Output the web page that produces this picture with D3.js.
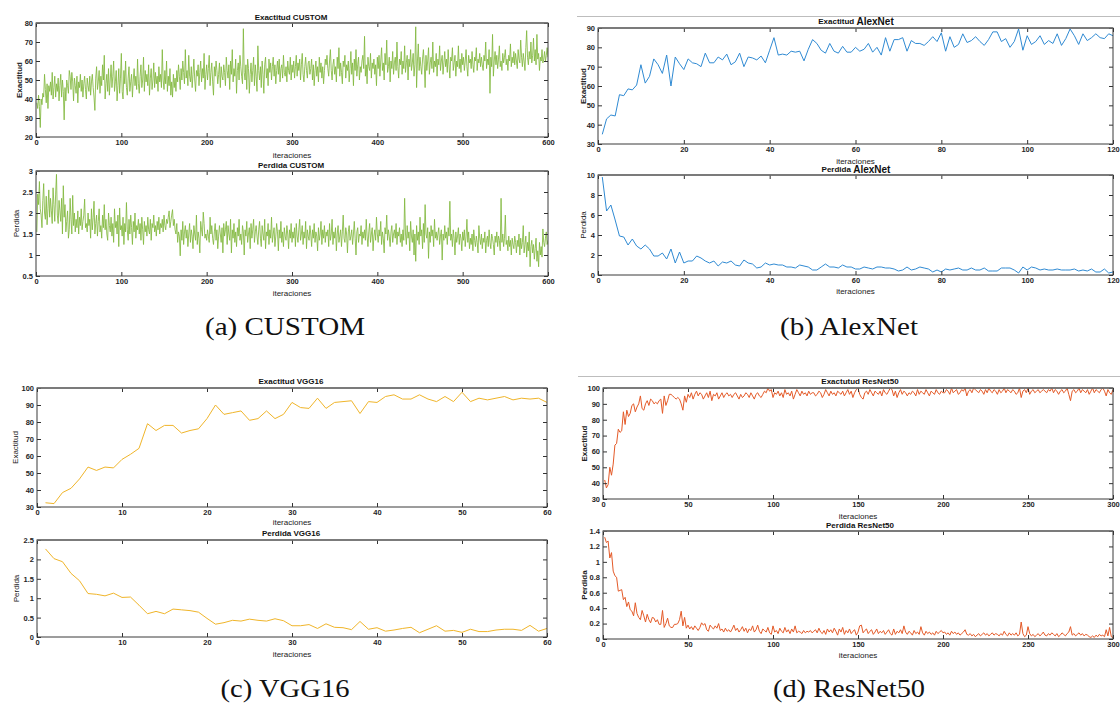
<!DOCTYPE html>
<html><head><meta charset="utf-8">
<script src="https://cdn.jsdelivr.net/npm/d3@7/dist/d3.min.js"></script>
<style>
html,body{margin:0;padding:0;background:#fff;}
svg{display:block;}
</style></head>
<body>
<svg id="chart" width="1120" height="704"></svg>
<script>
// ---------- DATA ----------
const customAcc = [
38,35,42,36,25,40,37,43,41,53,45,38,48,35,47,44,49,42,54,40,
46,52,41,48,44,51,39,47,53,41,50,44,29,46,39,50,47,43,55,52,
45,54,49,39,51,47,43,52,38,49,46,53,44,50,41,48,52,45,40,51,
47,44,52,42,49,53,46,41,34,51,57,45,49,55,43,52,47,58,50,63,
40,48,53,44,56,42,50,58,46,52,60,44,49,55,39,47,56,43,51,64,
44,40,55,48,60,46,42,51,57,44,49,53,41,50,56,47,52,45,61,48,
43,52,58,46,50,62,44,55,49,53,47,58,42,51,56,45,50,59,46,54,
48,52,44,57,49,53,46,66,50,45,55,48,60,44,52,47,56,42,49,41,
53,46,51,44,55,49,58,52,45,56,50,60,54,48,66,51,55,47,63,52,
49,57,46,53,61,50,44,55,52,58,47,54,60,49,56,51,64,45,53,58,
50,56,63,47,54,59,49,42,57,52,60,55,48,53,59,46,57,52,50,58,
54,47,62,55,51,58,45,60,53,66,49,56,52,61,43,55,59,50,63,57,
52,48,77,54,50,58,45,61,56,43,53,59,49,55,62,47,58,52,44,68,
55,50,57,46,60,53,43,58,62,51,56,47,61,54,59,50,57,62,52,58,
48,55,60,53,61,49,56,58,51,63,54,52,57,49,60,55,53,62,50,58,
54,60,51,57,63,52,59,55,61,50,58,64,53,49,57,62,55,51,59,60,
53,56,61,50,58,47,55,60,52,57,49,62,54,59,51,57,48,55,61,58,
63,56,52,60,66,55,50,58,61,53,57,49,62,56,67,52,59,54,48,60,
57,63,51,58,55,60,49,56,65,53,59,47,61,55,66,52,58,62,50,57,
54,60,63,56,73,52,58,48,62,57,55,64,51,59,56,61,53,58,47,62,
56,63,52,60,67,55,59,50,64,58,71,54,57,62,49,60,56,65,53,59,
62,55,70,57,51,61,58,65,53,60,56,68,54,59,63,50,61,57,66,55,
59,64,52,58,78,46,60,69,55,62,57,53,61,66,58,46,63,55,60,67,
53,59,62,56,70,54,60,57,64,52,61,58,68,55,60,63,53,59,65,57,
61,54,66,58,51,62,60,67,55,59,63,52,60,57,68,56,61,54,64,58,
62,55,60,66,57,52,63,59,61,56,65,58,54,62,60,67,55,61,59,64,
57,62,58,55,63,60,70,56,61,58,66,43,62,57,74,52,60,65,58,63,
56,61,68,57,60,55,64,59,62,66,58,61,55,63,60,69,57,62,59,65,
58,64,60,56,66,61,59,71,62,57,64,60,55,67,76,62,58,65,61,70,
59,63,72,60,66,58,74,61,64,55,62,60,66,59,61,65,60,63,67,62];

const customLoss = [
1.55,2.45,2.2,2.75,2.1,1.95,1.65,2.3,2.7,2.0,1.85,2.4,1.72,2.1,2.55,1.9,2.35,2.05,1.75,2.6,
2.2,1.8,2.45,2.92,1.95,1.75,2.3,2.05,1.8,2.35,1.5,2.65,1.9,2.2,1.55,1.8,2.05,1.4,1.6,2.35,
1.85,1.5,2.42,1.7,2.0,1.55,1.85,1.65,2.05,1.5,1.9,1.7,2.1,1.6,1.8,1.95,2.33,1.65,1.75,1.55,
2.0,1.7,1.85,1.4,2.1,1.6,1.9,2.28,1.5,1.75,1.95,1.45,1.8,2.1,1.55,1.7,1.4,1.95,1.65,2.2,
1.6,1.85,1.5,1.35,2.0,1.7,1.55,1.9,1.45,1.75,1.3,2.1,1.65,1.8,1.5,1.95,1.2,2.12,1.6,1.7,
1.45,1.9,1.25,1.75,1.55,2.25,1.6,1.35,1.85,1.5,1.95,1.65,1.25,1.8,1.55,2.0,1.4,1.7,1.6,1.85,
1.5,1.75,1.35,1.9,1.6,1.25,1.8,1.55,1.7,1.45,1.9,1.6,1.5,1.85,1.35,1.75,1.65,1.95,1.55,1.7,
1.45,1.8,1.6,1.9,1.5,1.75,1.65,1.85,1.55,1.95,1.7,1.6,1.85,1.75,1.9,2.05,1.65,1.8,1.95,2.08,
1.7,1.85,1.6,1.5,1.75,1.3,1.55,1.45,0.98,1.6,1.35,1.8,1.25,1.55,1.7,1.4,1.6,1.2,1.5,1.75,
1.3,1.6,1.45,1.15,1.7,1.5,1.35,1.95,1.25,1.55,1.4,1.05,1.8,1.6,1.45,2.02,1.75,1.4,1.5,1.35,
1.6,1.45,1.3,1.9,1.5,1.7,1.4,1.25,1.55,1.75,1.35,1.6,1.15,1.45,1.7,1.5,1.3,1.65,1.05,1.75,
1.45,1.6,1.8,1.25,1.7,1.5,1.35,1.85,1.05,1.6,1.4,1.75,1.3,1.55,1.2,1.65,1.45,1.85,1.35,1.5,
1.25,1.7,1.55,1.0,1.6,1.45,1.8,1.3,1.5,1.65,1.15,1.75,1.4,1.6,1.85,1.3,1.55,1.7,1.45,1.25,
1.6,1.8,1.4,1.2,1.7,1.5,1.35,1.85,1.15,1.55,1.45,1.75,1.25,1.6,1.4,1.9,1.3,1.5,1.65,1.2,
1.45,1.75,1.55,1.1,1.6,1.4,1.8,1.3,1.55,1.2,1.65,1.45,1.35,1.7,1.5,1.15,1.6,1.4,1.75,1.3,
1.55,1.4,1.65,1.2,1.75,1.45,1.3,1.6,1.85,1.35,1.5,1.7,1.25,1.55,1.4,1.8,1.15,1.6,1.45,1.35,
1.7,1.5,1.2,1.6,1.4,1.75,1.3,1.55,1.45,1.1,1.65,1.35,1.5,1.8,1.25,1.6,1.4,1.7,1.3,1.55,
1.45,1.6,1.2,1.75,1.35,1.5,1.85,1.25,1.55,1.4,1.65,1.1,1.5,1.7,1.3,1.45,1.6,1.2,1.55,1.95,
1.4,1.3,1.65,1.5,1.05,1.55,1.7,1.35,1.45,1.6,1.25,1.5,1.8,1.4,1.0,1.55,1.65,1.3,1.5,1.45,
1.7,1.25,1.55,1.4,1.6,1.35,1.85,1.45,1.2,1.55,1.75,1.3,1.5,1.65,1.1,1.45,1.6,1.35,1.9,1.5,
1.3,1.6,1.45,1.8,1.25,1.55,1.4,1.05,1.65,1.5,1.95,1.35,1.6,1.45,1.2,1.55,1.7,1.3,1.5,1.6,
1.4,1.75,1.25,1.55,1.45,1.65,1.3,1.5,1.2,1.6,1.35,2.35,1.5,1.25,1.7,1.4,1.55,1.1,1.8,1.45,
1.3,1.6,1.0,1.5,0.85,1.7,1.35,1.55,1.25,1.9,1.45,1.6,1.15,1.75,1.3,2.2,1.5,1.4,1.65,0.92,
1.55,1.3,1.7,1.45,1.6,1.2,1.85,1.4,1.55,1.35,1.5,1.65,1.25,1.45,1.6,0.88,1.5,1.35,1.7,1.4,
1.55,1.25,1.65,1.45,2.28,1.35,1.5,1.2,1.6,1.4,1.0,1.55,1.3,1.45,1.65,1.25,1.5,1.4,1.1,1.55,
1.35,1.6,1.2,1.45,1.85,1.3,1.55,1.15,1.4,1.25,1.5,1.1,1.6,1.35,1.2,1.45,1.3,1.05,1.7,1.4,
1.25,1.5,1.15,1.4,1.3,1.55,1.05,1.35,1.45,1.2,1.6,1.3,1.15,1.5,1.4,1.25,1.0,1.45,1.3,1.55,
1.2,1.45,1.35,1.1,2.35,1.3,1.5,1.2,1.4,1.95,1.25,1.35,1.1,1.45,1.2,1.35,1.0,1.4,1.25,1.15,
1.45,1.3,1.05,1.35,1.2,1.5,1.0,1.4,1.15,1.3,1.7,1.05,1.25,1.45,0.95,1.3,1.1,1.55,0.72,1.2,
1.35,1.05,1.25,0.9,1.15,1.4,0.85,1.1,0.72,1.3,1.0,1.2,0.95,1.62,1.3,1.2,1.4,1.55,1.25,1.35];

const alexAcc = [
35,43,45,44.5,55.5,55,58.5,58,60.5,71,61.5,65,74,71,66.5,76,60,75,71.5,68.5,
74,72,71.5,70,77,72,72,75,73.5,76.5,71,72.5,77,70,75,74.5,73.5,75.5,72,78.5,
85,76,76.5,76,78,77.5,78,73,79,84,82,78.5,77,82,78,77,80.5,77.5,77.5,80,
78,79,82,77.5,80,76,85,78,84,84,85,78,83.5,82,82,81,83,85.5,83,87.5,
78,85.5,80,81.5,87,82.5,83.5,85.5,83,81,84,88,88,83,84.5,80,83,89.5,78.5,86,
81.5,83,86,81.5,83.5,82,87,81,84.5,89.5,86,81.5,87,83.5,85,87,85,84.5,87,86];

const alexLoss = [
9.8,6.4,7.0,5.5,3.9,3.8,3.0,3.6,2.9,2.6,3.0,2.6,1.9,1.9,2.2,1.6,2.6,1.2,2.3,1.2,
1.4,1.4,1.9,1.7,1.4,1.2,1.4,0.9,1.3,1.2,1.4,1.0,0.9,1.5,1.2,1.1,0.7,0.8,1.2,1.0,
1.1,1.0,1.0,0.8,0.8,0.7,1.0,0.9,0.8,0.5,0.5,0.8,1.1,0.8,0.8,0.7,1.0,0.8,0.8,0.6,
0.6,0.8,0.7,0.6,0.8,0.8,0.7,0.7,0.6,0.4,0.5,0.8,0.5,0.6,0.8,0.7,0.6,0.3,0.5,0.3,
0.6,0.5,0.6,0.7,0.5,0.5,0.7,0.5,0.5,0.7,0.4,0.4,0.4,0.7,0.7,0.7,0.5,0.2,0.8,0.5,
0.8,0.7,0.5,0.6,0.5,0.5,0.6,0.5,0.5,0.5,0.6,0.4,0.5,0.4,0.6,0.3,0.3,0.6,0.2,0.3];

const vggAcc = [
32.5,32,38.5,41,46.5,53.5,51.5,53.5,53,58,61,64.5,79,75,78,78,73.5,75,76,82,
90,84.5,85.5,86.5,81,82,86.5,82,84.5,91.5,88.5,88,94,88,91.5,92,92.5,85,92,91.5,
95,96,93.5,93.5,96,93.5,92,95,92,97.5,92,94,93,94,95,93,94,93.5,94,91.5];

const vggLoss = [
2.27,2.02,1.94,1.64,1.45,1.12,1.10,1.06,1.13,1.02,1.03,0.82,0.60,0.66,0.60,0.72,0.70,0.68,0.64,0.48,
0.33,0.37,0.43,0.41,0.46,0.43,0.41,0.47,0.42,0.29,0.29,0.32,0.22,0.34,0.25,0.24,0.19,0.40,0.20,0.24,
0.15,0.18,0.22,0.25,0.11,0.20,0.29,0.15,0.17,0.12,0.20,0.14,0.14,0.18,0.20,0.20,0.17,0.30,0.15,0.22];

const resAcc = [
42,37,39,50,45,52,64,65,74,72,73,85,77,86,82,84,89,90,85,88,
90,95,87,86,90,92,89,93,92,90,91,90,92,93,84,95,89,92,96,96,
95,94,93,94,93,90,86,95,91,96,94,97,93,96,98,95,97,96,93,95,
97,94,98,92,96,95,97,93,95,97,94,96,97,95,96,94,96,97,95,93,
96,94,95,97,96,94,97,95,93,96,97,95,94,96,98,97,100,98,99,94,
97,96,98,95,97,94,99,96,97,95,98,93,96,99,97,95,98,96,97,95,
98,96,97,97,95,96,98,97,94,96,99,97,95,98,96,97,95,98,97,96,
98,95,97,99,96,98,94,97,99,100,96,94,93,97,98,96,99,97,95,98,
97,96,98,95,99,97,96,98,100,99,95,98,94,97,99,96,98,97,95,97,
96,98,97,95,99,96,98,97,96,99,97,95,98,97,96,99,97,96,98,97,
97,99,98,96,100,97,98,99,96,97,99,98,100,95,98,99,97,100,99,98,
97,99,98,96,99,97,100,98,97,99,98,96,99,97,98,100,97,99,98,97,
99,98,96,97,100,94,98,99,97,100,96,98,99,97,98,99,97,98,99,98,
97,99,98,100,97,99,98,96,98,99,97,98,100,96,92,98,99,97,98,100,
97,99,98,97,99,96,98,100,97,99,98,97,99,100,98,95,99,97,96,99];

const resLoss = [
1.32,1.25,1.27,1.05,1.12,0.88,0.82,0.80,0.62,0.63,0.64,0.51,0.54,0.42,0.48,0.38,0.36,0.30,0.47,0.33,
0.28,0.25,0.37,0.30,0.22,0.32,0.25,0.21,0.28,0.27,0.22,0.25,0.19,0.19,0.37,0.15,0.20,0.27,0.17,0.15,
0.15,0.19,0.19,0.20,0.25,0.36,0.17,0.28,0.14,0.18,0.13,0.16,0.12,0.17,0.14,0.11,0.15,0.21,0.18,0.20,
0.12,0.10,0.18,0.15,0.13,0.17,0.14,0.20,0.11,0.13,0.09,0.14,0.10,0.12,0.09,0.13,0.18,0.11,0.14,0.09,
0.12,0.16,0.10,0.14,0.08,0.13,0.11,0.17,0.09,0.12,0.18,0.10,0.07,0.13,0.11,0.09,0.15,0.08,0.06,0.17,
0.09,0.11,0.07,0.14,0.10,0.08,0.15,0.09,0.12,0.07,0.13,0.09,0.17,0.08,0.10,0.09,0.07,0.11,0.08,0.10,
0.09,0.11,0.08,0.10,0.12,0.08,0.14,0.09,0.07,0.11,0.06,0.13,0.09,0.12,0.08,0.14,0.10,0.05,0.13,0.09,
0.15,0.06,0.11,0.08,0.13,0.07,0.10,0.12,0.05,0.09,0.17,0.18,0.08,0.11,0.13,0.07,0.10,0.12,0.06,0.09,
0.13,0.07,0.10,0.08,0.11,0.06,0.09,0.12,0.07,0.05,0.13,0.06,0.10,0.08,0.12,0.07,0.17,0.09,0.06,0.10,
0.08,0.05,0.11,0.07,0.09,0.06,0.16,0.08,0.05,0.10,0.07,0.09,0.06,0.08,0.05,0.10,0.07,0.09,0.11,0.08,
0.09,0.06,0.08,0.05,0.10,0.07,0.09,0.06,0.08,0.05,0.07,0.09,0.12,0.06,0.05,0.07,0.04,0.06,0.03,0.05,
0.07,0.04,0.06,0.08,0.05,0.07,0.04,0.06,0.08,0.05,0.07,0.06,0.04,0.07,0.05,0.10,0.06,0.04,0.08,0.05,
0.07,0.05,0.08,0.04,0.06,0.22,0.07,0.03,0.05,0.16,0.07,0.04,0.06,0.03,0.05,0.07,0.04,0.06,0.09,0.05,
0.04,0.07,0.05,0.08,0.06,0.04,0.07,0.03,0.05,0.08,0.06,0.04,0.07,0.09,0.16,0.05,0.07,0.04,0.06,0.08,
0.05,0.07,0.04,0.06,0.05,0.03,0.02,0.04,0.02,0.05,0.03,0.06,0.04,0.05,0.03,0.12,0.04,0.15,0.03,0.02];

// tick values
const ticksX600 = [0,100,200,300,400,500,600];
const ticksX120 = [0,20,40,60,80,100,120];
const ticksX60  = [0,10,20,30,40,50,60];
const ticksX300 = [0,50,100,150,200,250,300];
const ticksAccCustom = [20,30,40,50,60,70,80];
const ticksLossCustom = [0.5,1,1.5,2,2.5,3];
const ticksAccAlex = [30,40,50,60,70,80,90];
const ticksLossAlex = [0,2,4,6,8,10];
const ticksAcc100 = [30,40,50,60,70,80,90,100];
const ticksLossVgg = [0,0.5,1,1.5,2,2.5];
const ticksLossRes = [0,0.2,0.4,0.6,0.8,1,1.2,1.4];

const captions = ["(a) CUSTOM","(b) AlexNet","(c) VGG16","(d) ResNet50"];

// ---------- DRAW ----------
const svg = d3.select("#chart");
const SANS = "'Liberation Sans', Arial, Helvetica, sans-serif";
const fmt = d => String(Math.round(d*10)/10);
let clipId = 0;

function panel(c) {
  const g = svg.append("g");
  const x = d3.scaleLinear().domain(c.xd).range([c.l, c.r]);
  const y = d3.scaleLinear().domain(c.yd).range([c.b, c.t]);
  const id = "clip" + (clipId++);
  g.append("clipPath").attr("id", id).append("rect")
    .attr("x", c.l).attr("y", c.t - 1).attr("width", c.r - c.l).attr("height", c.b - c.t + 2);

  g.append("path").datum(c.data)
    .attr("clip-path", `url(#${id})`)
    .attr("fill", "none").attr("stroke", c.color).attr("stroke-width", c.sw || 1)
    .attr("stroke-linejoin", "round")
    .attr("d", d3.line().x((d, i) => x(i + 1)).y(d => y(d)));

  const tickStyle = sel => {
    sel.select(".domain").remove();
    sel.selectAll(".tick line").attr("stroke", "#333").attr("stroke-width", 1);
    sel.selectAll(".tick text").attr("fill", "#262626")
      .style("font-family", SANS).style("font-size", "7.5px").style("font-weight", "bold");
  };
  g.append("g").attr("transform", `translate(0,${c.b})`)
    .call(d3.axisBottom(x).tickValues(c.xt).tickSize(-4).tickPadding(3).tickFormat(fmt)).call(tickStyle);
  g.append("g").attr("transform", `translate(0,${c.t})`)
    .call(d3.axisTop(x).tickValues(c.xt).tickSize(-4).tickFormat("")).call(tickStyle);
  g.append("g").attr("transform", `translate(${c.l},0)`)
    .call(d3.axisLeft(y).tickValues(c.yt).tickSize(-4).tickPadding(3).tickFormat(fmt)).call(tickStyle);
  g.append("g").attr("transform", `translate(${c.r},0)`)
    .call(d3.axisRight(y).tickValues(c.yt).tickSize(-4).tickFormat("")).call(tickStyle);

  // box
  g.append("rect").attr("x", c.l).attr("y", c.t).attr("width", c.r - c.l).attr("height", c.b - c.t)
    .attr("fill", "none").attr("stroke", "#3a3a3a").attr("stroke-width", 1);
  g.append("line").attr("x1", c.l).attr("x2", c.r).attr("y1", c.t).attr("y2", c.t)
    .attr("stroke", "#707070").attr("stroke-width", 1.6);

  // title
  const tt = g.append("text").attr("x", c.tx).attr("y", c.ty).attr("text-anchor", "middle")
    .attr("dominant-baseline", "central")
    .style("font-family", SANS).style("font-weight", "bold").attr("fill", "#111");
  c.title.forEach(p => tt.append("tspan").text(p[0]).style("font-size", p[1] + "px"));

  // y label
  g.append("text").attr("transform", `translate(${c.ylx},${(c.t + c.b) / 2}) rotate(-90)`)
    .attr("text-anchor", "middle").attr("dominant-baseline", "central")
    .style("font-family", SANS).style("font-size", "8px").style("font-weight", c.ylw || "bold")
    .attr("fill", "#222").text(c.ylabel);
  // x label
  g.append("text").attr("x", (c.l + c.r) / 2).attr("y", c.xly).attr("text-anchor", "middle")
    .attr("dominant-baseline", "central")
    .style("font-family", SANS).style("font-size", "8px").attr("fill", "#222").text("iteraciones");
}

const GREEN = "#82b83e", BLUE = "#2f8ad3", YELLOW = "#f0b52a", ORANGE = "#e45a28";

// (a) CUSTOM
panel({data: customAcc, color: GREEN, sw: 0.85, l: 36, r: 548, t: 23, b: 137, xd: [0, 600], yd: [20, 80],
  xt: ticksX600, yt: ticksAccCustom, title: [["Exactitud CUSTOM", 8]], tx: 291, ty: 17,
  ylabel: "Exactitud", ylx: 19, xly: 155});
panel({data: customLoss, color: GREEN, sw: 0.85, l: 36, r: 548, t: 171, b: 276, xd: [0, 600], yd: [0.5, 3],
  xt: ticksX600, yt: ticksLossCustom, title: [["Perdida CUSTOM", 8]], tx: 291, ty: 165,
  ylabel: "Perdida", ylx: 16, xly: 293, ylw: "normal"});

// (b) AlexNet
svg.append("line").attr("x1", 577).attr("x2", 1120).attr("y1", 16.5).attr("y2", 16.5)
  .attr("stroke", "#bdbdbd").attr("stroke-width", 1);
panel({data: alexAcc, color: BLUE, l: 598, r: 1113, t: 28, b: 144, xd: [0, 120], yd: [30, 90],
  xt: ticksX120, yt: ticksAccAlex, title: [["Exactitud ", 8], ["AlexNet", 10]], tx: 856, ty: 21,
  ylabel: "Exactitud", ylx: 583, xly: 161});
panel({data: alexLoss, color: BLUE, l: 598, r: 1113, t: 175, b: 275, xd: [0, 120], yd: [0, 10],
  xt: ticksX120, yt: ticksLossAlex, title: [["Perdida  ", 8], ["AlexNet", 10]], tx: 856, ty: 169,
  ylabel: "Perdida", ylx: 583, xly: 291, ylw: "normal"});

// (c) VGG16
panel({data: vggAcc, color: YELLOW, l: 37, r: 547, t: 388, b: 507, xd: [0, 60], yd: [30, 100],
  xt: ticksX60, yt: ticksAcc100, title: [["Exactitud VGG16", 8]], tx: 291, ty: 381,
  ylabel: "Exactitud", ylx: 15, xly: 522, ylw: "normal"});
panel({data: vggLoss, color: YELLOW, l: 37, r: 547, t: 540, b: 637, xd: [0, 60], yd: [0, 2.5],
  xt: ticksX60, yt: ticksLossVgg, title: [["Perdida VGG16", 8]], tx: 291, ty: 533,
  ylabel: "Perdida", ylx: 16, xly: 654, ylw: "normal"});

// (d) ResNet50
svg.append("line").attr("x1", 578).attr("x2", 1120).attr("y1", 376.5).attr("y2", 376.5)
  .attr("stroke", "#bdbdbd").attr("stroke-width", 1);
panel({data: resAcc, color: ORANGE, l: 603, r: 1113, t: 388, b: 499, xd: [0, 300], yd: [30, 100],
  xt: ticksX300, yt: ticksAcc100, title: [["Exactutud  ResNet50", 8]], tx: 860, ty: 381,
  ylabel: "Exactitud", ylx: 584, xly: 516});
panel({data: resLoss, color: ORANGE, l: 603, r: 1113, t: 531, b: 639, xd: [0, 300], yd: [0, 1.4],
  xt: ticksX300, yt: ticksLossRes, title: [["Perdida ResNet50", 8]], tx: 860, ty: 525,
  ylabel: "Perdida", ylx: 584, xly: 655});

// captions
const capPos = [[285, 326, 160], [849, 326, 138], [285, 688, 129], [849, 688, 152]];
captions.forEach((t, i) => {
  svg.append("text").attr("x", capPos[i][0]).attr("y", capPos[i][1])
    .attr("text-anchor", "middle").attr("dominant-baseline", "central")
    .attr("textLength", capPos[i][2]).attr("lengthAdjust", "spacingAndGlyphs")
    .style("font-family", "'Liberation Serif', 'DejaVu Serif', serif").style("font-size", "25px")
    .attr("fill", "#111").text(t);
});
</script>
</body></html>
